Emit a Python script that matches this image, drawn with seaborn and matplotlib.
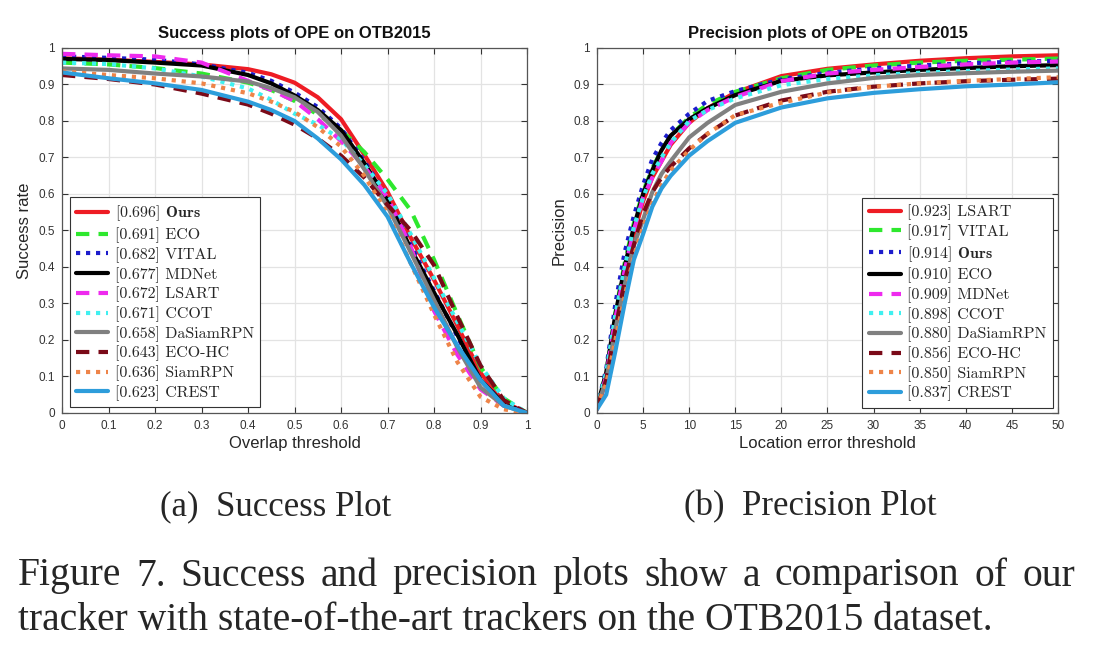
import numpy as np
import pandas as pd
import matplotlib
matplotlib.use("Agg")
import matplotlib.pyplot as plt
from matplotlib.font_manager import FontProperties
import seaborn as sns

# ---------------- data ----------------
succ_thr = [0, 0.1, 0.2, 0.3, 0.4, 0.45, 0.5, 0.55, 0.6, 0.65, 0.7, 0.75, 0.8, 0.85, 0.9, 0.95, 1.0]
succ_names = ["Ours", "ECO", "VITAL", "MDNet", "LSART", "CCOT", "DaSiamRPN", "ECO-HC", "SiamRPN", "CREST"]
succ_scores = ["0.696", "0.691", "0.682", "0.677", "0.672", "0.671", "0.658", "0.643", "0.636", "0.623"]
succ_ours = [0.972, 0.968, 0.962, 0.955, 0.942, 0.928, 0.905, 0.865, 0.805, 0.708, 0.606, 0.48, 0.365, 0.24, 0.11, 0.03, 0.0]
succ_eco = [0.96, 0.955, 0.945, 0.93, 0.905, 0.885, 0.855, 0.818, 0.775, 0.715, 0.64, 0.555, 0.42, 0.27, 0.125, 0.04, 0.0]
succ_vital = [0.977, 0.973, 0.968, 0.955, 0.932, 0.91, 0.878, 0.838, 0.78, 0.69, 0.59, 0.46, 0.335, 0.21, 0.09, 0.025, 0.0]
succ_mdnet = [0.97, 0.967, 0.96, 0.952, 0.926, 0.903, 0.87, 0.83, 0.775, 0.685, 0.583, 0.45, 0.33, 0.215, 0.09, 0.025, 0.0]
succ_lsart = [0.984, 0.98, 0.977, 0.96, 0.91, 0.885, 0.855, 0.805, 0.745, 0.675, 0.59, 0.455, 0.28, 0.16, 0.065, 0.02, 0.0]
succ_ccot = [0.96, 0.956, 0.944, 0.922, 0.889, 0.858, 0.82, 0.79, 0.75, 0.68, 0.60, 0.49, 0.37, 0.25, 0.13, 0.04, 0.0]
succ_dasiam = [0.944, 0.94, 0.93, 0.922, 0.908, 0.89, 0.865, 0.825, 0.76, 0.668, 0.566, 0.44, 0.31, 0.18, 0.07, 0.02, 0.0]
succ_ecohc = [0.926, 0.915, 0.9, 0.875, 0.845, 0.82, 0.79, 0.752, 0.705, 0.645, 0.57, 0.50, 0.405, 0.265, 0.13, 0.035, 0.0]
succ_siamrpn = [0.936, 0.926, 0.917, 0.903, 0.876, 0.853, 0.825, 0.783, 0.73, 0.65, 0.547, 0.41, 0.27, 0.14, 0.044, 0.01, 0.0]
succ_crest = [0.933, 0.917, 0.903, 0.885, 0.853, 0.83, 0.80, 0.752, 0.695, 0.625, 0.538, 0.41, 0.29, 0.185, 0.09, 0.02, 0.0]

prec_thr = [0, 1, 2, 3, 4, 5, 6, 7, 8, 10, 12, 15, 20, 25, 30, 35, 40, 45, 50]
prec_names = ["LSART", "VITAL", "Ours", "ECO", "MDNet", "CCOT", "DaSiamRPN", "ECO-HC", "SiamRPN", "CREST"]
prec_scores = ["0.923", "0.917", "0.914", "0.910", "0.909", "0.898", "0.880", "0.856", "0.850", "0.837"]
prec_lsart = [0.01, 0.09, 0.24, 0.38, 0.49, 0.58, 0.645, 0.69, 0.735, 0.795, 0.835, 0.878, 0.923, 0.943, 0.955, 0.965, 0.972, 0.977, 0.98]
prec_vital = [0.015, 0.11, 0.275, 0.41, 0.52, 0.605, 0.67, 0.72, 0.76, 0.81, 0.845, 0.88, 0.917, 0.94, 0.952, 0.96, 0.965, 0.968, 0.971]
prec_ours = [0.015, 0.12, 0.30, 0.44, 0.54, 0.625, 0.695, 0.74, 0.775, 0.82, 0.855, 0.882, 0.914, 0.932, 0.944, 0.952, 0.958, 0.962, 0.965]
prec_eco = [0.015, 0.11, 0.27, 0.40, 0.51, 0.60, 0.665, 0.72, 0.76, 0.805, 0.835, 0.871, 0.91, 0.925, 0.933, 0.94, 0.945, 0.95, 0.953]
prec_mdnet = [0.015, 0.10, 0.26, 0.39, 0.50, 0.59, 0.645, 0.69, 0.74, 0.795, 0.83, 0.866, 0.909, 0.93, 0.94, 0.948, 0.955, 0.96, 0.963]
prec_ccot = [0.015, 0.11, 0.27, 0.40, 0.51, 0.59, 0.655, 0.70, 0.74, 0.80, 0.83, 0.862, 0.898, 0.915, 0.925, 0.932, 0.937, 0.941, 0.944]
prec_dasiam = [0.015, 0.09, 0.23, 0.35, 0.46, 0.53, 0.605, 0.655, 0.69, 0.755, 0.795, 0.844, 0.88, 0.903, 0.918, 0.926, 0.931, 0.935, 0.938]
prec_ecohc = [0.015, 0.09, 0.23, 0.36, 0.46, 0.545, 0.605, 0.645, 0.675, 0.725, 0.765, 0.815, 0.856, 0.88, 0.894, 0.903, 0.909, 0.913, 0.916]
prec_siamrpn = [0.015, 0.08, 0.20, 0.32, 0.43, 0.51, 0.575, 0.625, 0.665, 0.72, 0.765, 0.816, 0.85, 0.878, 0.894, 0.903, 0.91, 0.915, 0.92]
prec_crest = [0.01, 0.05, 0.17, 0.30, 0.42, 0.49, 0.565, 0.615, 0.65, 0.705, 0.745, 0.795, 0.837, 0.862, 0.877, 0.887, 0.895, 0.90, 0.906]

succ_series = [succ_ours, succ_eco, succ_vital, succ_mdnet, succ_lsart,
               succ_ccot, succ_dasiam, succ_ecohc, succ_siamrpn, succ_crest]
prec_series = [prec_lsart, prec_vital, prec_ours, prec_eco, prec_mdnet,
               prec_ccot, prec_dasiam, prec_ecohc, prec_siamrpn, prec_crest]

caption_a = "(a)  Success Plot"
caption_b = "(b)  Precision Plot"
caption_line1 = "Figure 7. Success and precision plots show a comparison of our"
caption_line2 = "tracker with state-of-the-art trackers on the OTB2015 dataset."

# ---------------- styles (by rank) ----------------
rank_colors = ["#ee1c24", "#2ee82e", "#1c1ccc", "#000000", "#ee2aee",
               "#40f0f0", "#808080", "#7a0a18", "#ee8448", "#2d9ddb"]
rank_dashes = ["", (3.2, 2.2), (1.0, 1.4), "", (3.2, 2.2),
               (1.0, 1.4), "", (3.2, 2.2), (1.0, 1.4), ""]

sns.set_style("ticks")
plt.rcParams["mathtext.fontset"] = "cm"
plt.rcParams["font.family"] = ["Liberation Sans", "DejaVu Sans"]

fig = plt.figure(figsize=(11, 6.52), dpi=100)
ax1 = fig.add_axes([0.0564, 0.3666, 0.4227, 0.5598])
ax2 = fig.add_axes([0.5427, 0.3666, 0.4191, 0.5598])


def draw(ax, thr, names, series, scores, bold_name, xlabel, ylabel, title,
         xticks, xticklabels, legend_loc, legend_anchor):
    frames = []
    for n, s in zip(names, series):
        frames.append(pd.DataFrame({"thr": thr, "val": s, "tracker": n}))
    df = pd.concat(frames, ignore_index=True)
    pal = dict(zip(names, rank_colors))
    dsh = dict(zip(names, rank_dashes))
    sns.lineplot(data=df, x="thr", y="val", hue="tracker", style="tracker",
                 hue_order=names, style_order=names, palette=pal, dashes=dsh,
                 linewidth=3.0, legend=False, ax=ax, estimator=None, sort=False)
    for ln in ax.get_lines():
        ln.set_solid_joinstyle("round")
        ln.set_dash_joinstyle("round")
    ax.set_xlim(xticks[0], xticks[-1])
    ax.set_ylim(0, 1)
    ax.set_xticks(xticks)
    ax.set_xticklabels(xticklabels)
    yt = [i / 10 for i in range(11)]
    ax.set_yticks(yt)
    ax.set_yticklabels(["0"] + ["0.%d" % i for i in range(1, 10)] + ["1"])
    ax.grid(True, color="#e3e3e3", linewidth=0.9)
    ax.set_axisbelow(True)
    ax.tick_params(direction="in", top=True, right=True, length=4, width=0.8,
                   labelsize=8.5, colors="#333333", pad=5)
    for sp in ax.spines.values():
        sp.set_visible(True)
        sp.set_color("#555555")
        sp.set_linewidth(0.9)
    ax.set_xlabel(xlabel, fontsize=12, color="#262626", labelpad=3)
    ax.set_ylabel(ylabel, fontsize=12, color="#262626", labelpad=5)
    ax.set_title(title, fontsize=12, fontweight="bold", color="#111111", pad=7)
    labels = []
    for n, sc in zip(names, scores):
        if n == bold_name:
            labels.append("[%s] $\\mathbf{%s}$" % (sc, n))
        else:
            labels.append("[%s] %s" % (sc, n))
    handles = ax.get_lines()[:len(names)]
    leg = ax.legend(handles, labels, loc=legend_loc, bbox_to_anchor=legend_anchor,
                    prop=FontProperties(family="cmr10", size=11.5),
                    frameon=True, fancybox=False, framealpha=1, edgecolor="#333333",
                    handlelength=2.0, handletextpad=0.4, labelspacing=0.255,
                    borderpad=0.4, borderaxespad=0.0)
    leg.get_frame().set_linewidth(0.8)


draw(ax1, succ_thr, succ_names, succ_series, succ_scores, "Ours",
     "Overlap threshold", "Success rate", "Success plots of OPE on OTB2015",
     [i / 10 for i in range(11)], ["0"] + ["0.%d" % i for i in range(1, 10)] + ["1"],
     "lower left", (0.017, 0.016))
draw(ax2, prec_thr, prec_names, prec_series, prec_scores, "Ours",
     "Location error threshold", "Precision", "Precision plots of OPE on OTB2015",
     list(range(0, 51, 5)), [str(v) for v in range(0, 51, 5)],
     "lower right", (0.989, 0.014))

serif = ["Liberation Serif", "DejaVu Serif"]
cap_size = 28.5
fig.text(0.251, 1 - 507 / 652, caption_a, ha="center", va="center",
         fontsize=25, family=serif)
fig.text(0.7364, 1 - 507 / 652, caption_b, ha="center", va="center",
         fontsize=25, family=serif)

# justified first caption line
renderer = fig.canvas.get_renderer()
words = caption_line1.split(" ")
x_left, x_right = 18 / 1100, 1075 / 1100
y1 = 1 - 576 / 652
tobjs = [fig.text(0, y1, w, ha="left", va="center", fontsize=cap_size, family=serif)
         for w in words]
widths = [t.get_window_extent(renderer=renderer).width / fig.bbox.width for t in tobjs]
gap = (x_right - x_left - sum(widths)) / (len(words) - 1)
xpos = x_left
for t, w in zip(tobjs, widths):
    t.set_x(xpos)
    xpos += w + gap

fig.text(x_left, 1 - 621 / 652, caption_line2,
         ha="left", va="center", fontsize=cap_size, family=serif)

fig.savefig("out.png", dpi=100)
